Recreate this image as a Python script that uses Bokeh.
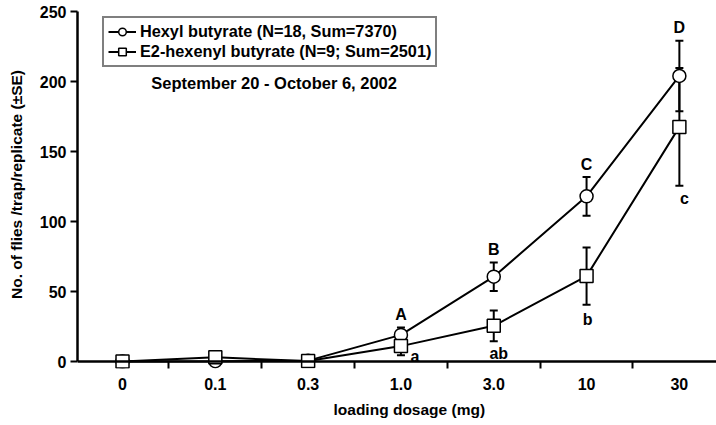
from bokeh.plotting import figure
from bokeh.models import (ColumnDataSource, Range1d, FixedTicker, Span, Whisker, TeeHead,
                          Legend, LegendItem, Label, LabelSet, Title)
from bokeh.core.properties import value
from bokeh.embed import file_html
from bokeh.resources import INLINE

# ---- data ----
dosages = ["0", "0.1", "0.3", "1.0", "3.0", "10", "30"]
hexyl_mean = [0, 0.2, 0.6, 19, 60.6, 118, 204]
hexyl_se = [0, 0, 0, 5.3, 10.2, 13.8, 25.2]
e2_mean = [0, 3, 0.3, 11, 25.5, 61, 167.6]
e2_se = [0, 0.5, 0, 6.5, 11, 20.5, 42]
upper_letters = ["", "", "", "A", "B", "C", "D"]
lower_letters = ["", "", "", "a", "ab", "b", "c"]
hexyl_name = "Hexyl butyrate (N=18, Sum=7370)"
e2_name = "E2-hexenyl butyrate (N=9; Sum=2501)"
date_text = "September 20 - October 6, 2002"
y_ticks = [0, 50, 100, 150, 200, 250]

FONT = "Liberation Sans"

xs = list(range(len(dosages)))
src_h = ColumnDataSource(dict(x=xs, y=hexyl_mean,
                              lo=[m - s for m, s in zip(hexyl_mean, hexyl_se)],
                              hi=[m + s for m, s in zip(hexyl_mean, hexyl_se)],
                              t=upper_letters))
src_e = ColumnDataSource(dict(x=xs, y=e2_mean,
                              lo=[m - s for m, s in zip(e2_mean, e2_se)],
                              hi=[m + s for m, s in zip(e2_mean, e2_se)],
                              t=lower_letters,
                              dx=[0, 0, 0, 14, 5, 1, 5],
                              dy=[0, 0, 0, -1.5, -12, -15, -13]))

p = figure(width=716, height=425,
           x_range=Range1d(-0.485, 6.40), y_range=Range1d(-5, 257.9),
           output_backend="svg", toolbar_location=None,
           min_border_left=77, min_border_right=0, min_border_top=0, min_border_bottom=57)
p.outline_line_color = None
p.xgrid.visible = False
p.ygrid.visible = False
p.background_fill_color = "white"

# y axis
yax = p.yaxis[0]
yax.ticker = FixedTicker(ticks=y_ticks)
yax.bounds = (0, 250)
yax.axis_line_width = 2.5
yax.axis_line_color = "black"
yax.major_tick_line_width = 2
yax.major_tick_out = 7
yax.major_tick_in = 0
yax.minor_tick_line_color = None
yax.major_label_standoff = 4
yax.major_label_text_font = FONT
yax.major_label_text_font_style = "bold"
yax.major_label_text_font_size = "16px"
yax.major_label_text_color = "black"
yax.axis_label = "No. of flies /trap/replicate (±SE)"
yax.axis_label_standoff = 12
yax.axis_label_text_font = FONT
yax.axis_label_text_font_style = "bold"
yax.axis_label_text_font_size = "15.5px"
yax.axis_label_text_color = "black"

# x axis
xax = p.xaxis[0]
xax.ticker = FixedTicker(ticks=xs, minor_ticks=[i + 0.5 for i in xs[:-1]])
xax.major_label_overrides = {i: d for i, d in enumerate(dosages)}
xax.axis_line_color = None
xax.major_tick_line_color = None
xax.major_tick_out = 0
xax.major_tick_in = 0
xax.minor_tick_line_color = "black"
xax.minor_tick_line_width = 2
xax.minor_tick_in = 7
xax.minor_tick_out = 0
xax.major_label_standoff = 9
xax.major_label_text_font = FONT
xax.major_label_text_font_style = "bold"
xax.major_label_text_font_size = "16px"
xax.major_label_text_color = "black"

p.add_layout(Title(text="loading dosage (mg)", align="left", offset=256, standoff=12,
                   text_font=FONT, text_font_style="bold", text_font_size="15.5px",
                   text_color="black"), "below")

p.add_layout(Span(location=0, dimension="width", line_color="black", line_width=2.5))

# error bars
for src in (src_h, src_e):
    p.add_layout(Whisker(source=src, base="x", upper="hi", lower="lo",
                         line_color="black", line_width=2,
                         upper_head=TeeHead(size=8, line_width=2, line_color="black"),
                         lower_head=TeeHead(size=8, line_width=2, line_color="black")))

lh = p.line("x", "y", source=src_h, line_color="black", line_width=2)
sh = p.scatter("x", "y", source=src_h, marker="circle", size=13,
               fill_color="white", line_color="black", line_width=1.5)
le = p.line("x", "y", source=src_e, line_color="black", line_width=2)
se = p.scatter("x", "y", source=src_e, marker="square", size=13,
               fill_color="white", line_color="black", line_width=1.5)

# significance letters
p.add_layout(LabelSet(source=src_h, x="x", y="hi", text="t", y_offset=13,
                      text_align="center", text_baseline="middle",
                      text_font=value(FONT), text_font_style="bold", text_font_size="16px",
                      text_color="black"))
p.add_layout(LabelSet(source=src_e, x="x", y="lo", text="t", x_offset="dx", y_offset="dy",
                      text_align="center", text_baseline="middle",
                      text_font=value(FONT), text_font_style="bold", text_font_size="16px",
                      text_color="black"))

# legend
legend = Legend(items=[LegendItem(label=hexyl_name, renderers=[lh, sh]),
                       LegendItem(label=e2_name, renderers=[le, se])],
                location=(25, 301), orientation="vertical",
                padding=4, spacing=1, margin=0,
                glyph_width=28, glyph_height=19, label_height=19, label_standoff=4,
                label_text_font=FONT, label_text_font_style="bold",
                label_text_font_size="16.3px", label_text_color="black",
                border_line_color="black", border_line_width=2,
                background_fill_color="white", background_fill_alpha=1.0)
p.add_layout(legend, "center")

p.add_layout(Label(x=73.7, y=286, x_units="screen", y_units="screen", text=date_text,
                   text_align="left", text_baseline="middle",
                   text_font=FONT, text_font_style="bold", text_font_size="16.5px",
                   text_color="black"))

open("out.html", "w").write(file_html(p, INLINE))
